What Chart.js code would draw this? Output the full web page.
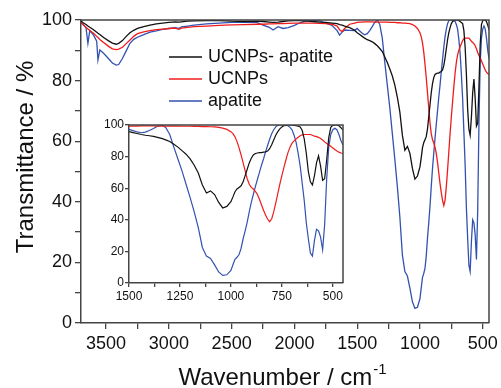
<!DOCTYPE html>
<html>
<head>
<meta charset="utf-8">
<script src="https://cdn.jsdelivr.net/npm/chart.js@4/dist/chart.umd.min.js"></script>
<style>
  html, body { margin: 0; padding: 0; background: #fff; overflow: hidden; }
  #wrap { position: relative; width: 501px; height: 388px; }
  #mainChart { position: absolute; left: 0; top: 0; }
  #insetChart { position: absolute; left: 95px; top: 115px; background: #fff; }
</style>
</head>
<body>
<div id="wrap">
  <canvas id="mainChart" width="501" height="388"></canvas>
  <canvas id="insetChart" width="255" height="195"></canvas>
</div>
<script>
// FTIR spectra (wavenumber in cm-1, transmittance in %)
const wavenumber = [
    3700, 3680, 3660, 3645, 3630, 3600, 3575, 3565, 3550, 3520,
    3480, 3450, 3420, 3400, 3370, 3340, 3310, 3280, 3250, 3200,
    3150, 3100, 3050, 3000, 2950, 2920, 2900, 2850, 2800, 2700,
    2600, 2500, 2400, 2300, 2250, 2200, 2170, 2130, 2090, 2050,
    2000, 1960, 1900, 1850, 1800, 1750, 1700, 1660, 1640, 1620,
    1600, 1560, 1520,
    1500, 1480, 1460, 1440, 1420, 1400, 1380, 1360, 1340, 1320,
    1300, 1280, 1260, 1240, 1220, 1200, 1180, 1160, 1140, 1120,
    1100, 1080, 1060, 1040, 1020, 1000,
    990, 980, 970, 960, 950, 940, 930, 920, 910, 900,
    890, 880, 870, 860, 850, 840, 830, 820, 810, 800,
    790, 780, 770, 760, 750, 740, 730, 720, 710, 700,
    690, 680, 670, 660, 650, 640, 630, 620, 610, 600,
    590, 580, 570, 560, 550, 540, 530, 520, 510, 500,
    490, 480, 470, 460, 450
];

const ucnpsApatite = [
    99.7, 99.0, 98.5, 98.0, 97.6, 96.8, 96.0, 95.6, 95.2, 94.2,
    93.1, 92.4, 92.0, 92.3, 93.2, 94.6, 95.8, 96.6, 97.2, 97.8,
    98.3, 98.7, 99.0, 99.2, 99.4, 99.3, 99.4, 99.6, 99.7, 99.8,
    99.8, 99.6, 99.5, 99.6, 99.5, 99.3, 99.2, 99.3, 99.5, 99.7,
    99.8, 99.8, 99.6, 99.5, 99.3, 99.2, 99.0, 98.8, 98.5, 98.3,
    98.0, 97.5, 96.6,
    95.8, 95.2, 94.6, 94.0, 93.5, 93.2, 92.8, 92.2, 91.5, 90.6,
    89.6, 87.8, 86.0, 83.8, 81.5, 78.5, 74.5, 69.6, 62.0, 57.0,
    58.3, 56.0, 51.0, 47.5, 48.5, 51.5,
    54.5, 57.8, 59.5, 60.5, 61.5, 64.0, 68.0, 72.0, 76.0, 79.0,
    81.0, 82.0, 82.3, 82.5, 82.5, 82.8, 83.0, 83.5, 85.0, 87.5,
    90.5, 93.5, 95.8, 97.5, 98.8, 99.5, 99.8, 100, 100, 100,
    99.8, 99.5, 99.2, 98.8, 96.5, 91.0, 82.0, 70.5, 64.0, 62.0,
    68.0, 76.0, 80.5, 74.0, 65.0, 66.0, 78.0, 92.0, 98.5, 99.8,
    100, 100, 99.5, 98.3, 96.8
];

const ucnps = [
    99.2, 98.3, 97.5, 97.0, 96.5, 95.6, 94.6, 94.2, 93.6, 92.6,
    91.3, 90.5, 90.2, 90.4, 91.0, 92.2, 93.4, 94.6, 95.5, 96.1,
    96.5, 96.8, 97.0, 97.2, 97.3, 96.9, 97.3, 97.6, 97.8, 98.0,
    98.2, 98.4, 98.5, 98.6, 98.6, 98.7, 98.7, 98.8, 98.8, 98.9,
    99.0, 99.0, 99.0, 99.0, 98.9, 98.8, 98.6, 98.0, 96.8, 96.2,
    97.2, 98.6, 99.0,
    99.2, 99.3, 99.3, 99.4, 99.4, 99.4, 99.4, 99.3, 99.3, 99.3,
    99.3, 99.3, 99.3, 99.2, 99.2, 99.2, 99.1, 99.1, 99.0, 99.0,
    98.9, 98.8, 98.5, 98.0, 97.2, 95.8,
    94.5, 92.5, 89.5, 85.5, 81.0, 76.0, 71.0, 66.0, 62.5, 60.5,
    59.5, 58.0, 56.0, 53.0, 49.5, 46.0, 43.0, 40.5, 38.8, 40.5,
    45.0, 50.5, 56.5, 62.5, 68.0, 73.0, 78.0, 82.5, 86.0, 88.5,
    90.0, 91.2, 92.2, 93.2, 93.8, 94.0, 94.0, 94.0, 94.0, 93.5,
    93.0, 92.6, 92.2, 91.5, 90.5, 89.3, 88.3, 87.5, 86.5, 85.5,
    84.5, 83.5, 82.8, 82.3, 82.0
];

const apatite = [
    99.2, 98.4, 97.5, 92.3, 96.5, 95.0, 93.0, 86.8, 90.1, 89.0,
    87.2, 85.8, 85.1, 85.3, 87.3, 89.8, 92.3, 93.6, 94.3, 95.2,
    96.0, 96.4, 96.9, 97.2, 97.5, 97.2, 97.7, 98.0, 98.3, 98.7,
    99.0, 99.2, 99.3, 99.2, 98.3, 97.6, 96.7, 97.8, 97.2, 97.5,
    98.2, 99.0, 99.8, 100, 99.7, 99.0, 98.2, 96.5, 95.0, 96.0,
    96.7, 96.6, 96.5,
    97.2, 96.4, 95.6, 95.1, 95.5, 96.5, 97.8, 99.2, 100, 98.5,
    94.0, 86.0, 78.5, 71.0, 62.5, 54.0, 45.0, 35.0, 22.5, 17.0,
    15.5, 11.5, 7.0, 4.8, 5.2, 8.0,
    11.5, 15.0, 16.3, 18.0, 22.0, 28.0, 33.0, 38.5, 45.0, 51.0,
    56.0, 61.0, 65.5, 70.0, 74.5, 78.5, 83.0, 87.0, 91.0, 94.5,
    97.0, 98.8, 99.8, 100, 100, 100, 100, 99.5, 98.5, 97.0,
    93.5, 89.0, 82.0, 74.0, 63.0, 52.0, 38.0, 28.0, 19.0, 17.0,
    27.0, 34.0, 33.0, 29.0, 21.0, 37.0, 66.0, 86.0, 94.0, 97.0,
    98.0, 97.0, 94.0, 90.0, 87.3
];

const seriesNames = ['UCNPs- apatite', 'UCNPs', 'apatite'];
const seriesColors = ['#111111', '#f01c1c', '#3352b0'];
const mainXTicks = [500, 750, 1000, 1250, 1500, 1750, 2000, 2250, 2500, 2750, 3000, 3250, 3500];
const insetXTicks = [500, 625, 750, 875, 1000, 1125, 1250, 1375, 1500];

const FONT = "'Liberation Sans', Arial, sans-serif";
const AXIS = '#444';

const toPoints = arr => wavenumber.map((w, i) => ({ x: w, y: arr[i] }));

function makeDatasets(width) {
    return [ucnpsApatite, ucnps, apatite].map((arr, i) => ({
        label: seriesNames[i],
        data: toPoints(arr),
        borderColor: seriesColors[i],
        borderWidth: width,
        pointRadius: 0,
        tension: 0,
        fill: false
    }));
}

// top and right edges of the box
const framePlugin = {
    id: 'frame',
    afterDatasetsDraw(chart) {
        const { ctx, chartArea: a } = chart;
        ctx.save();
        ctx.strokeStyle = AXIS;
        ctx.lineWidth = 1.5;
        ctx.beginPath();
        ctx.moveTo(a.left, a.top);
        ctx.lineTo(a.right, a.top);
        ctx.lineTo(a.right, a.bottom);
        ctx.stroke();
        ctx.restore();
    }
};

// legend and axis titles of the main plot
const decorPlugin = {
    id: 'decor',
    afterDraw(chart) {
        const ctx = chart.ctx;
        ctx.save();
        ctx.font = '18px ' + FONT;
        ctx.textBaseline = 'middle';
        seriesNames.forEach((name, i) => {
            const y = 57 + i * 22;
            ctx.strokeStyle = seriesColors[i];
            ctx.lineWidth = 1.5;
            ctx.beginPath();
            ctx.moveTo(169, y);
            ctx.lineTo(202, y);
            ctx.stroke();
            ctx.fillStyle = '#111';
            ctx.fillText(name, 208, y);
        });

        ctx.fillStyle = '#111';
        ctx.textBaseline = 'alphabetic';
        ctx.font = '24px ' + FONT;
        const main = 'Wavenumber / cm';
        const w = ctx.measureText(main).width;
        ctx.font = '15px ' + FONT;
        const sw = ctx.measureText('-1').width;
        const x0 = 282 - (w + sw) / 2;
        ctx.font = '24px ' + FONT;
        ctx.textAlign = 'left';
        ctx.fillText(main, x0, 385);
        ctx.font = '15px ' + FONT;
        ctx.fillText('-1', x0 + w + 1, 374);

        ctx.font = '24px ' + FONT;
        ctx.translate(33, 157);
        ctx.rotate(-Math.PI / 2);
        ctx.textAlign = 'center';
        ctx.fillText('Transmittance / %', 0, 0);
        ctx.restore();
    }
};

function axes(cfg) {
    return {
        x: {
            type: 'linear',
            reverse: true,
            min: 450,
            max: cfg.xMax,
            afterBuildTicks: s => { s.ticks = cfg.xTicks.map(v => ({ value: v })); },
            afterFit: s => { s.height = cfg.xHeight; s.paddingLeft = 0; s.paddingRight = 0; },
            ticks: {
                autoSkip: false,
                maxRotation: 0,
                padding: cfg.pad,
                color: '#111',
                font: { family: FONT, size: cfg.font },
                callback: v => (v % cfg.xLabelStep === 0 ? String(v) : '')
            },
            grid: { drawOnChartArea: false, drawTicks: true, tickLength: cfg.tick, color: AXIS, lineWidth: 1.3 },
            border: { display: true, color: AXIS, width: 1.5 }
        },
        y: {
            min: 0,
            max: 100,
            afterFit: s => { s.width = cfg.yWidth; s.paddingTop = 0; s.paddingBottom = 0; },
            ticks: {
                stepSize: cfg.yStep,
                autoSkip: false,
                padding: cfg.pad - 1,
                color: '#111',
                font: { family: FONT, size: cfg.font },
                callback: v => (v % 20 === 0 ? String(v) : '')
            },
            grid: { drawOnChartArea: false, drawTicks: true, tickLength: cfg.tick, color: AXIS, lineWidth: 1.3 },
            border: { display: true, color: AXIS, width: 1.5 }
        }
    };
}

new Chart(document.getElementById('mainChart'), {
    type: 'line',
    data: { datasets: makeDatasets(1.3) },
    options: {
        responsive: false,
        animation: false,
        layout: { padding: { left: 0, top: 20, right: 12, bottom: 0 } },
        plugins: { legend: { display: false }, tooltip: { enabled: false } },
        scales: axes({
            xMax: 3700, xTicks: mainXTicks, xLabelStep: 500, xHeight: 65,
            yWidth: 81, yStep: 10, font: 18, tick: 6, pad: 4
        })
    },
    plugins: [framePlugin, decorPlugin]
});

new Chart(document.getElementById('insetChart'), {
    type: 'line',
    data: { datasets: makeDatasets(1.2) },
    options: {
        responsive: false,
        animation: false,
        layout: { padding: { left: 0, top: 10, right: 7, bottom: 0 } },
        plugins: { legend: { display: false }, tooltip: { enabled: false } },
        scales: axes({
            xMax: 1500, xTicks: insetXTicks, xLabelStep: 250, xHeight: 27,
            yWidth: 34, yStep: 20, font: 12, tick: 4, pad: 2
        })
    },
    plugins: [framePlugin]
});
</script>
</body>
</html>
